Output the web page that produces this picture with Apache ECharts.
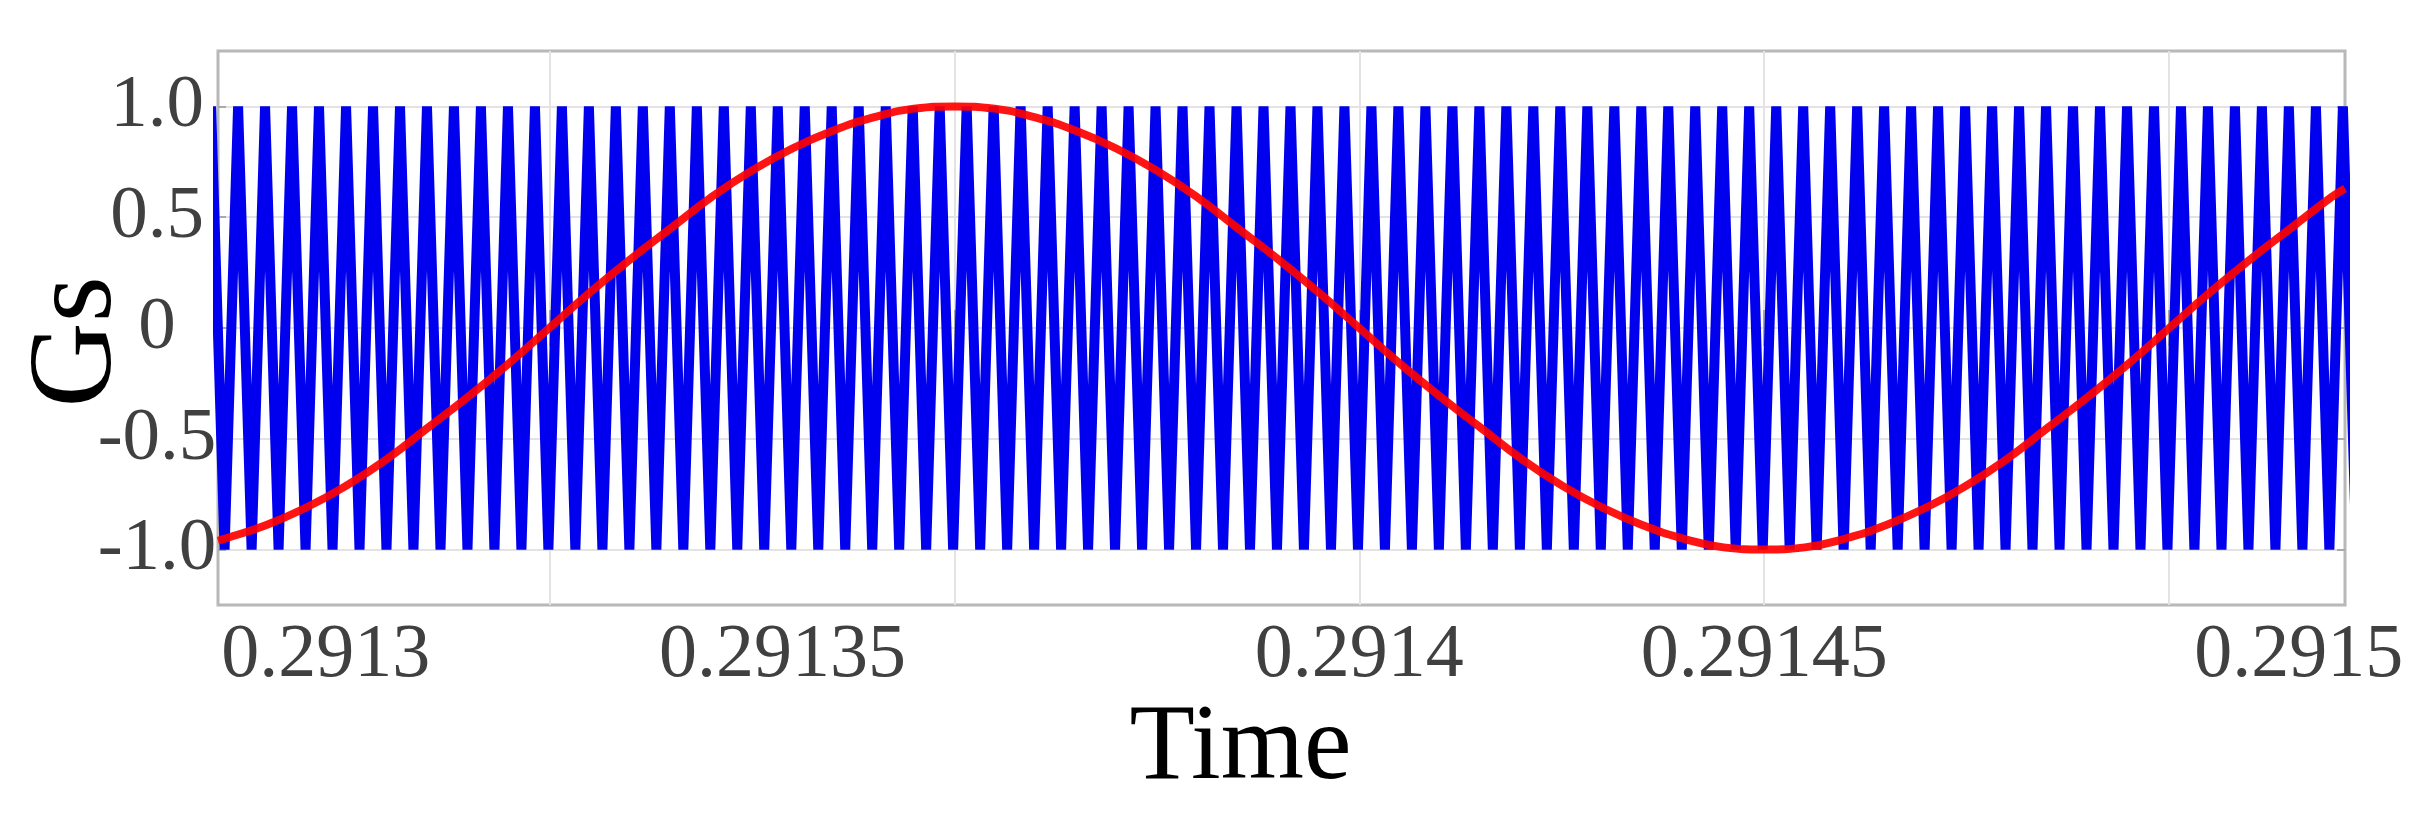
<!DOCTYPE html>
<html>
<head>
<meta charset="utf-8">
<script src="https://cdn.jsdelivr.net/npm/echarts@6/dist/echarts.min.js"></script>
<style>
html,body{margin:0;padding:0;background:#ffffff;}
#chart{width:2431px;height:824px;}
</style>
</head>
<body>
<div id="chart"></div>
<script>
// ---------------- data ----------------
// carrier (triangle) peak times, value +1
const peakTimes = [
0.29125825, 0.29126158, 0.29126491, 0.29126824, 0.29127157, 0.29127491, 0.29127824, 0.29128157, 0.29128490, 0.29128823,
0.29129156, 0.29129490, 0.29129823, 0.29130156, 0.29130489, 0.29130822, 0.29131155, 0.29131488, 0.29131822, 0.29132155,
0.29132488, 0.29132821, 0.29133154, 0.29133487, 0.29133820, 0.29134154, 0.29134487, 0.29134820, 0.29135153, 0.29135486,
0.29135819, 0.29136153, 0.29136486, 0.29136819, 0.29137152, 0.29137485, 0.29137818, 0.29138151, 0.29138485, 0.29138818,
0.29139151, 0.29139484, 0.29139817, 0.29140150, 0.29140483, 0.29140817, 0.29141150, 0.29141483, 0.29141816, 0.29142149,
0.29142482, 0.29142816, 0.29143149, 0.29143482, 0.29143815, 0.29144148, 0.29144481, 0.29144814, 0.29145148, 0.29145481,
0.29145814, 0.29146147, 0.29146480, 0.29146813, 0.29147146, 0.29147480, 0.29147813, 0.29148146, 0.29148479, 0.29148812,
0.29149145, 0.29149479, 0.29149812, 0.29150145, 0.29150478, 0.29150811, 0.29151144, 0.29151477, 0.29151811, 0.29152144
];
// carrier (triangle) trough times, value -1
const troughTimes = [
0.29125991, 0.29126325, 0.29126658, 0.29126991, 0.29127324, 0.29127657, 0.29127990, 0.29128323, 0.29128657, 0.29128990,
0.29129323, 0.29129656, 0.29129989, 0.29130322, 0.29130656, 0.29130989, 0.29131322, 0.29131655, 0.29131988, 0.29132321,
0.29132654, 0.29132988, 0.29133321, 0.29133654, 0.29133987, 0.29134320, 0.29134653, 0.29134986, 0.29135320, 0.29135653,
0.29135986, 0.29136319, 0.29136652, 0.29136985, 0.29137319, 0.29137652, 0.29137985, 0.29138318, 0.29138651, 0.29138984,
0.29139317, 0.29139651, 0.29139984, 0.29140317, 0.29140650, 0.29140983, 0.29141316, 0.29141649, 0.29141983, 0.29142316,
0.29142649, 0.29142982, 0.29143315, 0.29143648, 0.29143982, 0.29144315, 0.29144648, 0.29144981, 0.29145314, 0.29145647,
0.29145980, 0.29146314, 0.29146647, 0.29146980, 0.29147313, 0.29147646, 0.29147979, 0.29148312, 0.29148646, 0.29148979,
0.29149312, 0.29149645, 0.29149978, 0.29150311, 0.29150645, 0.29150978, 0.29151311, 0.29151644, 0.29151977, 0.29152310
];
const carrierHigh = 1.0;
const carrierLow = -1.0;

// reference (sine) wave samples
const refTimes = [
0.2912591,
0.291260, 0.291265, 0.291270, 0.291275, 0.291280, 0.291285, 0.291290, 0.291295, 0.291300, 0.291305,
0.291310, 0.291315, 0.291320, 0.291325, 0.291330, 0.291335, 0.291340, 0.291345, 0.291350, 0.291355,
0.291360, 0.291365, 0.291370, 0.291375, 0.291380, 0.291385, 0.291390, 0.291395, 0.291400, 0.291405,
0.291410, 0.291415, 0.291420, 0.291425, 0.291430, 0.291435, 0.291440, 0.291445, 0.291450, 0.291455,
0.291460, 0.291465, 0.291470, 0.291475, 0.291480, 0.291485, 0.291490, 0.291495, 0.291500, 0.291505,
0.291510, 0.291515, 0.291520,
0.2915217
];
const refValues = [
-0.96,
-0.95, -0.89, -0.81, -0.71, -0.59, -0.45, -0.31, -0.16, 0.00, 0.16,
0.31, 0.45, 0.59, 0.71, 0.81, 0.89, 0.95, 0.99, 1.00, 0.99,
0.95, 0.89, 0.81, 0.71, 0.59, 0.45, 0.31, 0.16, 0.00, -0.16,
-0.31, -0.45, -0.59, -0.71, -0.81, -0.89, -0.95, -0.99, -1.00, -0.99,
-0.95, -0.89, -0.81, -0.71, -0.59, -0.45, -0.31, -0.16, 0.00, 0.16,
0.31, 0.45, 0.59,
0.63
];

const xRange = [0.2912591, 0.2915217];
const yRange = [-1.25, 1.25];
const xTickValues = [0.2913, 0.29135, 0.2914, 0.29145, 0.2915];
const xTickLabels = ['0.2913', '0.29135', '0.2914', '0.29145', '0.2915'];
const yTickValues = [-1, -0.5, 0, 0.5, 1];
const yTickLabels = ['-1.0', '-0.5', '0', '0.5', '1.0'];
const xName = 'Time';
const yName = 'Gs';

// ---------------- layout / style ----------------
// in the source figure the x tick labels are not drawn under their ticks;
// these are the axis values under which each label is centred.
const xLabelAnchors = [0.2912724, 0.2913288, 0.2914, 0.29145, 0.291516];

const FONT = "'Liberation Serif','Times New Roman',serif";

function nearestIndex(arr, v) {
  let bi = 0, bd = Infinity;
  for (let i = 0; i < arr.length; i++) {
    const d = Math.abs(arr[i] - v);
    if (d < bd) { bd = d; bi = i; }
  }
  return bi;
}

const carrierData = [];
for (let i = 0; i < peakTimes.length; i++) {
  carrierData.push([peakTimes[i], carrierHigh]);
  if (i < troughTimes.length) carrierData.push([troughTimes[i], carrierLow]);
}
const refData = refTimes.map((t, i) => [t, refValues[i]]);

const tickStyle = { color: '#a9a9a9', width: 2 };

const option = {
  animation: false,
  backgroundColor: '#ffffff',
  grid: {
    left: 218, right: 86, top: 51, bottom: 219,
    show: true, borderColor: '#b8b8b8', borderWidth: 3,
    backgroundColor: 'transparent', containLabel: false,
    outerBoundsMode: 'none'
  },
  xAxis: [
    {
      type: 'value', min: xRange[0], max: xRange[1], position: 'bottom',
      axisLine: { show: false },
      axisTick: { show: true, inside: true, length: 18, customValues: xTickValues, lineStyle: tickStyle },
      splitLine: { show: true, lineStyle: { color: '#e3e3e3', width: 2 } },
      axisLabel: {
        show: true, customValues: xLabelAnchors, margin: 13,
        formatter: v => xTickLabels[nearestIndex(xLabelAnchors, v)],
        fontFamily: FONT, fontSize: 76, color: '#404040'
      },
      name: xName, nameLocation: 'middle', nameGap: 91, nameMoveOverlap: false,
      nameTextStyle: { fontFamily: FONT, fontSize: 107, color: '#000000', padding: [0, 82, 0, 0] }
    },
    {
      type: 'value', min: xRange[0], max: xRange[1], position: 'top',
      axisLine: { show: false },
      axisTick: { show: true, inside: true, length: 18, customValues: xTickValues, lineStyle: tickStyle },
      splitLine: { show: false },
      axisLabel: { show: false }
    }
  ],
  yAxis: [
    {
      type: 'value', min: yRange[0], max: yRange[1], position: 'left',
      axisLine: { show: false },
      axisTick: { show: true, inside: true, length: 8, customValues: yTickValues, lineStyle: tickStyle },
      splitLine: { show: true, lineStyle: { color: '#e3e3e3', width: 2 } },
      axisLabel: {
        show: true, customValues: yTickValues, margin: 61, align: 'center',
        formatter: v => yTickLabels[nearestIndex(yTickValues, v)],
        fontFamily: FONT, fontSize: 75, color: '#404040'
      },
      name: yName, nameLocation: 'middle', nameGap: 80, nameMoveOverlap: false,
      nameTextStyle: { fontFamily: FONT, fontSize: 118, color: '#000000', padding: [0, 28, 0, 0] }
    },
    {
      type: 'value', min: yRange[0], max: yRange[1], position: 'right',
      axisLine: { show: false },
      axisTick: { show: true, inside: true, length: 8, customValues: yTickValues, lineStyle: tickStyle },
      splitLine: { show: false },
      axisLabel: { show: false }
    }
  ],
  series: [
    {
      name: 'carrier', type: 'line', xAxisIndex: 0, yAxisIndex: 0,
      data: carrierData, showSymbol: false, symbol: 'none',
      lineStyle: { color: '#0000EE', width: 10, join: 'bevel' },
      z: 2, clip: true, silent: true
    },
    {
      name: 'reference', type: 'line', xAxisIndex: 0, yAxisIndex: 0,
      data: refData, showSymbol: false, symbol: 'none', smooth: true,
      lineStyle: { color: '#FF0000', width: 8, opacity: 0.92 },
      z: 3, clip: true, silent: true
    }
  ]
};

const chart = echarts.init(document.getElementById('chart'), null, { renderer: 'canvas' });
chart.setOption(option);
</script>
</body>
</html>
